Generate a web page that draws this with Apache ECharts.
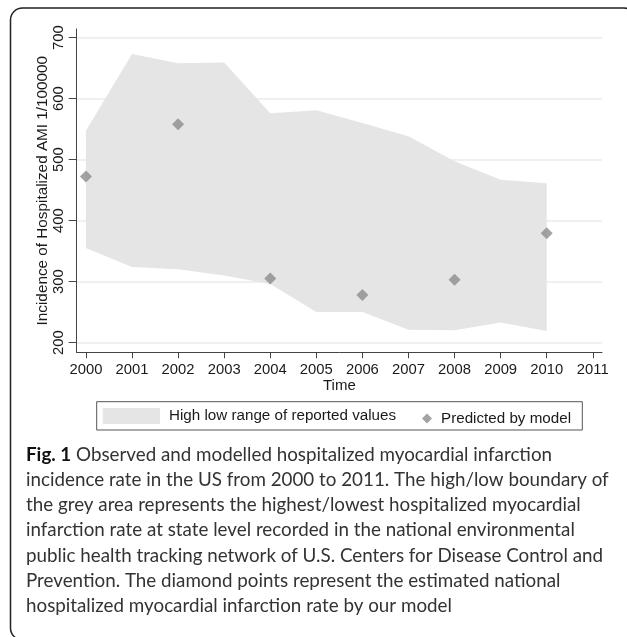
<!DOCTYPE html>
<html>
<head>
<meta charset="utf-8">
<script src="https://cdn.jsdelivr.net/npm/echarts@6/dist/echarts.min.js"></script>
<style>
  html, body { margin: 0; padding: 0; background: #fff; }
  #chart { width: 627px; height: 637px; }
</style>
</head>
<body>
<div id="chart"></div>
<script>
// data
const years = [2000, 2001, 2002, 2003, 2004, 2005, 2006, 2007, 2008, 2009, 2010];
const highValues = [547, 673, 658, 659, 576, 581, 560, 538, 497, 467, 461];
const lowValues = [355, 324, 320, 310, 296, 250, 250, 221, 220, 233, 219];
const predYears = [2000, 2002, 2004, 2006, 2008, 2010];
const predValues = [472, 558, 305, 278, 303, 379];
const xTicks = [2000, 2001, 2002, 2003, 2004, 2005, 2006, 2007, 2008, 2009, 2010, 2011];
const yTicks = [200, 300, 400, 500, 600, 700];

const bandName = 'High low range of reported values';
const predName = 'Predicted by model';
const captionLines = [
    '{b|Fig. 1} Observed and modelled hospitalized myocardial infarction',
    'incidence rate in the US from 2000 to 2011. The high/low boundary of',
    'the grey area represents the highest/lowest hospitalized myocardial',
    'infarction rate at state level recorded in the national environmental',
    'public health tracking network of U.S. Centers for Disease Control and',
    'Prevention. The diamond points represent the estimated national',
    'hospitalized myocardial infarction rate by our model'
];

const axisFont = 'Liberation Sans, Arial, sans-serif';
const textColor = '#1a1a1a';

const chart = echarts.init(document.getElementById('chart'));

const option = {
    animation: false,
    backgroundColor: '#fff',
    grid: { left: 76.7, right: 25, top: 29, bottom: 284.7 },
    xAxis: {
        type: 'value',
        min: 1999.8,
        max: 2011.2,
        name: 'Time',
        nameLocation: 'middle',
        nameGap: 26,
        nameMoveOverlap: false,
        nameTextStyle: { fontFamily: axisFont, fontSize: 15, color: textColor },
        axisLine: { lineStyle: { color: '#444', width: 1 } },
        axisTick: { customValues: xTicks, length: 6, lineStyle: { color: '#444' } },
        axisLabel: {
            customValues: xTicks,
            formatter: v => String(v),
            margin: 10,
            fontFamily: axisFont,
            fontSize: 14.8,
            color: textColor
        },
        splitLine: { show: false }
    },
    yAxis: {
        type: 'value',
        min: 184,
        max: 714,
        name: 'Incidence of Hospitalized AMI 1/100000',
        nameLocation: 'middle',
        nameRotate: 90,
        nameGap: 26,
        nameMoveOverlap: false,
        nameTextStyle: { fontFamily: axisFont, fontSize: 15.3, color: textColor },
        axisLine: { show: true, lineStyle: { color: '#444', width: 1 } },
        axisTick: { show: true, customValues: yTicks, length: 8, lineStyle: { color: '#444' } },
        axisLabel: {
            customValues: yTicks,
            rotate: 90,
            margin: 10,
            fontFamily: axisFont,
            fontSize: 14.8,
            color: textColor
        },
        splitLine: { show: true, lineStyle: { color: '#ebebeb', width: 1.5 } }
    },
    legend: [
        {
            data: [{ name: bandName, icon: 'rect' }],
            left: 102.7,
            top: 408,
            padding: 0,
            itemWidth: 57.3,
            itemHeight: 16,
            selectedMode: false,
            textStyle: { fontFamily: axisFont, fontSize: 15.2, color: textColor, padding: [0, 0, 0, 4] }
        },
        {
            data: [{ name: predName, icon: 'diamond' }],
            left: 422,
            top: 411,
            padding: 0,
            itemWidth: 10,
            itemHeight: 10,
            selectedMode: false,
            textStyle: { fontFamily: axisFont, fontSize: 15.2, color: textColor, padding: [0, 0, 0, 4] }
        }
    ],
    series: [
        {
            name: bandName,
            type: 'custom',
            itemStyle: { color: '#e5e5e5' },
            data: years.map((y, i) => [y, lowValues[i], highValues[i]]),
            renderItem: (params, api) => {
                if (params.dataIndex !== 0) return null;
                const top = years.map((y, i) => api.coord([y, highValues[i]]));
                const bottom = years.map((y, i) => api.coord([y, lowValues[i]])).reverse();
                return {
                    type: 'polygon',
                    shape: { points: top.concat(bottom) },
                    style: { fill: '#e5e5e5' }
                };
            },
            z: 1
        },
        {
            name: predName,
            type: 'scatter',
            symbol: 'diamond',
            symbolSize: 12,
            itemStyle: { color: '#8c8c8c' },
            data: predYears.map((y, i) => [y, predValues[i]]),
            z: 3
        }
    ],
    graphic: [
        {
            type: 'rect',
            shape: { x: 10.5, y: 8, width: 625.5, height: 632, r: 12 },
            style: { fill: 'none', stroke: '#222', lineWidth: 1.5 },
            silent: true
        },
        {
            type: 'rect',
            shape: { x: 96.7, y: 401.7, width: 485.6, height: 28.3 },
            style: { fill: 'none', stroke: '#555', lineWidth: 1 },
            silent: true
        },
        {
            type: 'text',
            left: 26,
            top: 442.5,
            style: {
                text: captionLines.join('\n'),
                fontFamily: 'Lato, sans-serif',
                fontSize: 18.8,
                lineHeight: 25.1,
                fill: '#333',
                rich: {
                    b: { fontFamily: 'Lato, sans-serif', fontSize: 18.8, fontWeight: 'bold', lineHeight: 25.1, fill: '#111' }
                }
            },
            silent: true
        }
    ]
};

chart.setOption(option);
</script>
</body>
</html>
